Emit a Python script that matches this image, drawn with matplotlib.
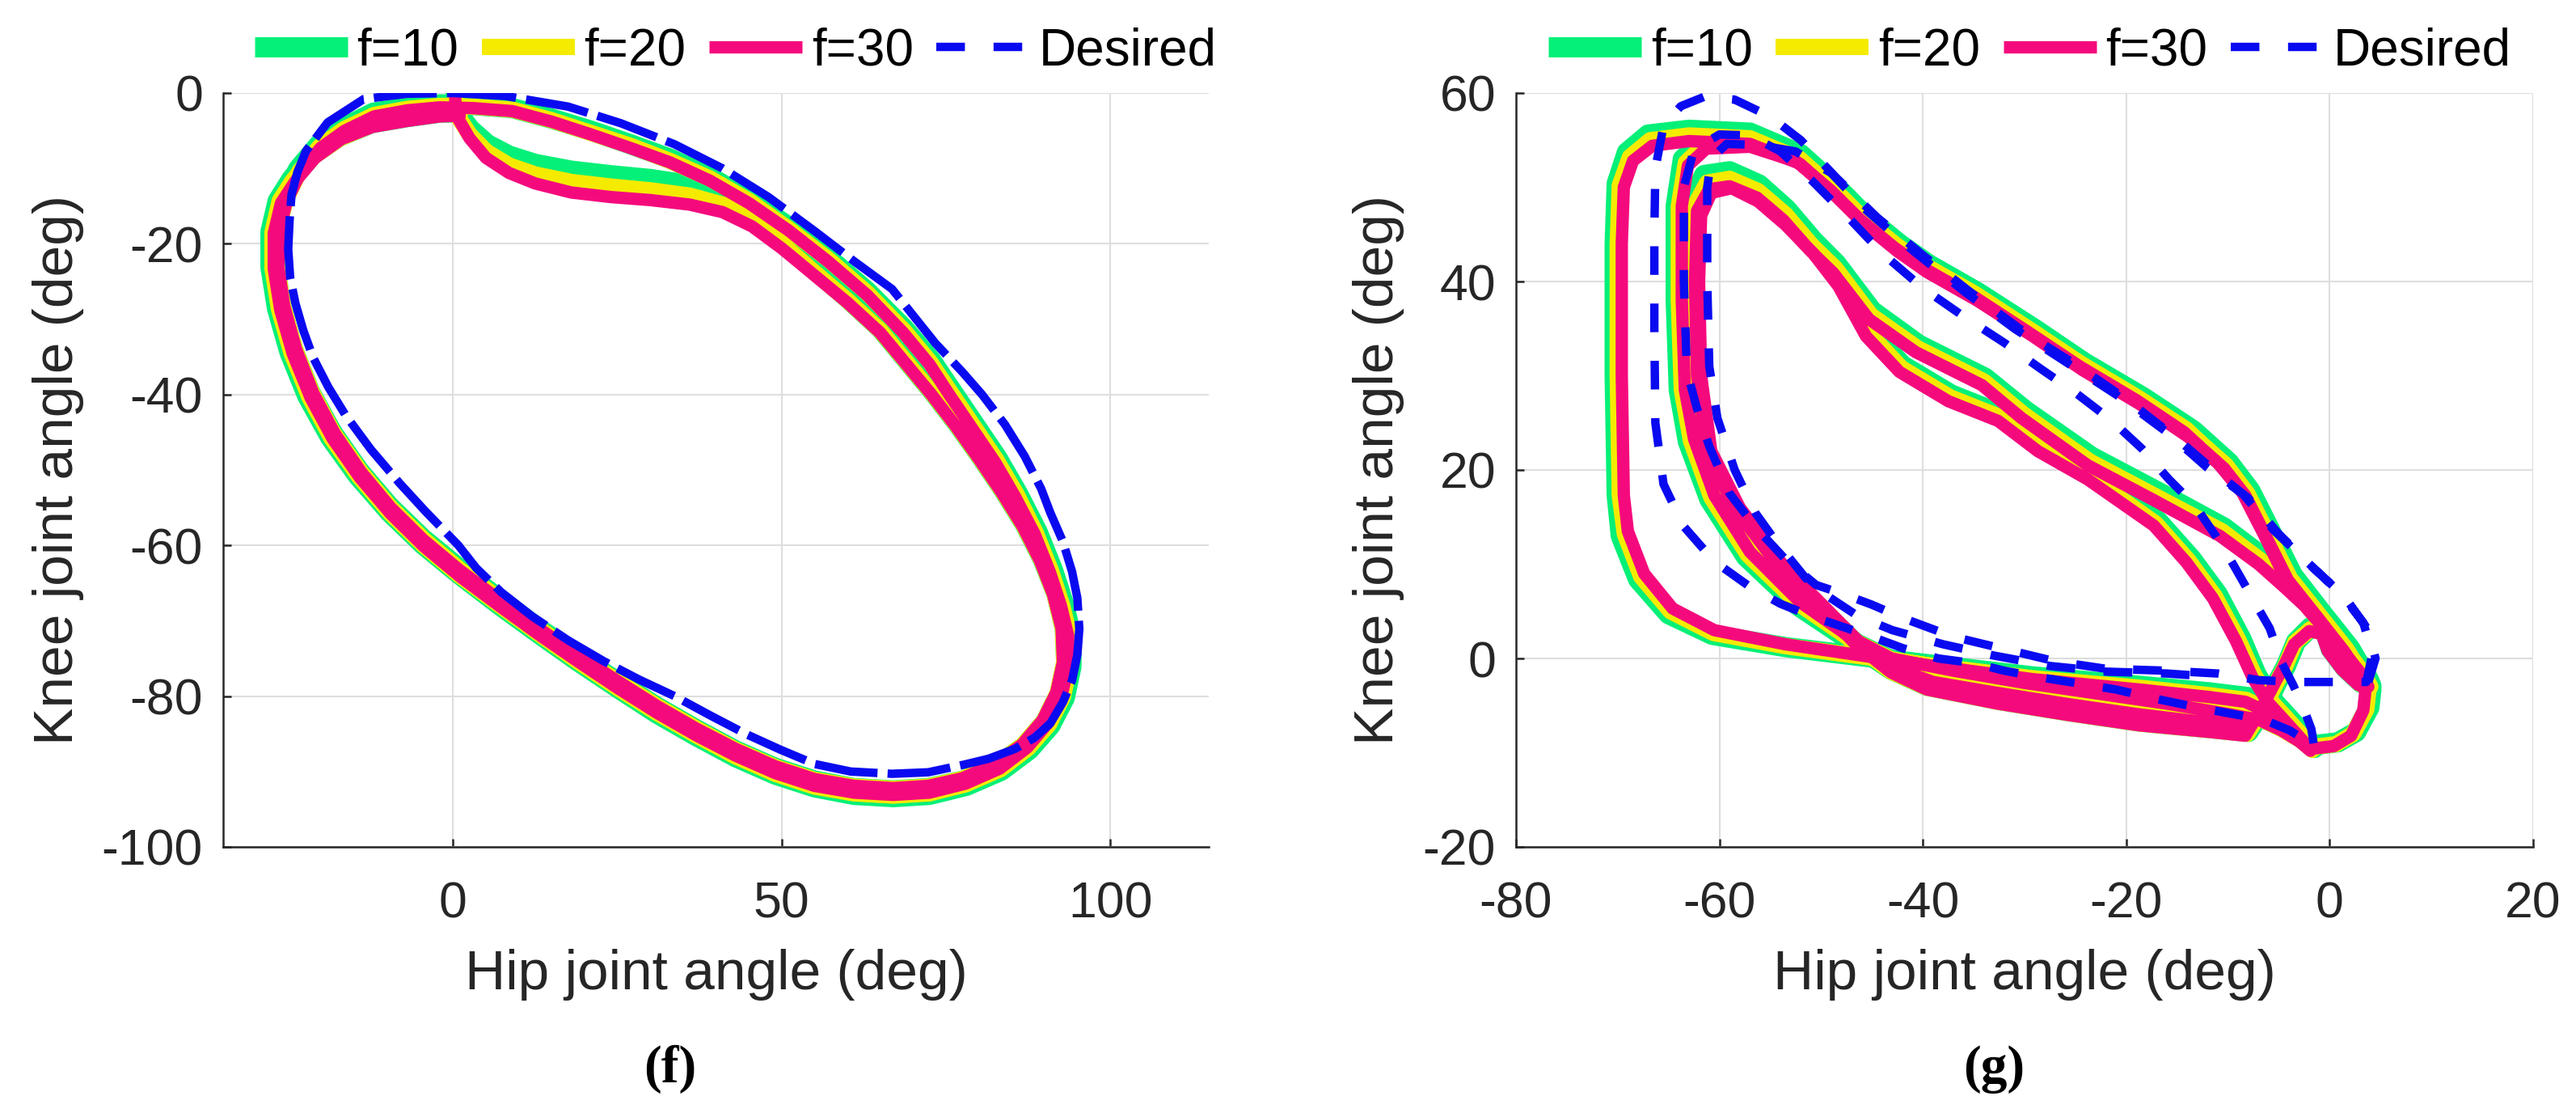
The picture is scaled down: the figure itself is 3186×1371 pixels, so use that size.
import numpy as np
import matplotlib
matplotlib.use("Agg")
import matplotlib.pyplot as plt
from matplotlib.lines import Line2D

# ---------------- data (hip, knee) in deg ----------------
# panel (f)
f_f10 = [(0.3, -0.5), (0.6, -2.5), (2.6, -4.8), (5.2, -6.8), (8.5, -8.3), (12.5, -9.4), (18.0, -10.3),
         (24.0, -10.9), (30.0, -11.4), (36.0, -12.2), (41.0, -13.6), (45.5, -16.0), (50.0, -19.4),
         (55.0, -23.4), (60.0, -27.2), (65.0, -31.2), (69.0, -35.4), (72.9, -39.5), (76.7, -43.8),
         (80.3, -48.2), (83.8, -52.7), (87.0, -57.2), (89.7, -61.8), (91.8, -66.4), (93.1, -71.0),
         (93.3, -75.6), (92.3, -79.7), (90.1, -83.5), (86.9, -86.7), (82.7, -89.3), (77.6, -91.2),
         (72.3, -92.2), (67.0, -92.5), (61.0, -92.2), (55.0, -91.2), (49.0, -89.5), (43.0, -87.2),
         (37.0, -84.4), (31.0, -81.4), (25.0, -78.1), (19.0, -74.6), (13.0, -71.0), (7.0, -67.1),
         (1.0, -63.1), (-4.6, -59.1), (-9.7, -54.8), (-14.3, -50.1), (-18.4, -45.0), (-21.8, -39.6),
         (-24.4, -33.9), (-26.2, -28.2), (-27.1, -22.9), (-27.0, -18.3), (-25.8, -14.0), (-23.6, -10.1),
         (-20.5, -6.9), (-16.7, -4.6), (-12.1, -2.6), (-7.0, -1.9), (-2.0, -1.5), (3.0, -1.6),
         (9.0, -2.0), (15.0, -3.4), (21.0, -5.0), (27.0, -6.8), (33.0, -8.7), (39.0, -11.1),
         (45.0, -14.1), (51.0, -17.7), (57.0, -21.8), (63.0, -26.3), (68.7, -31.3), (72.8, -35.5),
         (75.9, -39.5), (79.4, -44.0), (82.9, -48.5), (86.0, -53.2), (89.0, -58.3), (91.3, -63.3),
         (93.0, -67.9), (94.1, -72.0), (94.1, -76.1), (93.1, -80.2), (90.9, -83.9), (87.7, -87.1),
         (83.4, -89.9), (78.1, -91.9), (72.5, -93.1), (67.0, -93.4), (61.0, -93.1), (55.0, -92.1),
         (49.0, -90.4), (43.0, -88.1), (37.0, -85.3), (31.0, -82.3), (25.0, -78.9), (19.0, -75.4),
         (13.0, -71.7), (7.0, -67.9), (1.0, -63.9), (-4.6, -59.9), (-9.7, -55.6), (-14.5, -50.8),
         (-18.7, -45.7), (-22.2, -40.2), (-24.9, -34.4), (-26.8, -28.6), (-27.8, -23.1), (-27.8, -18.4),
         (-26.7, -14.3), (-24.6, -11.4), (-21.4, -8.2), (-17.4, -5.8), (-12.4, -4.0), (-7.0, -3.2),
         (-2.0, -2.6), (1.0, -2.6)]
f_f20 = [(0.3, -0.5), (0.5, -2.8), (2.5, -5.5), (5.1, -7.8), (8.5, -9.6), (12.5, -10.8), (18.0, -11.8),
         (24.0, -12.4), (30.0, -12.9), (36.0, -13.6), (41.0, -14.8), (45.5, -16.9), (50.0, -20.0),
         (55.0, -23.8), (60.0, -27.5), (65.0, -31.5), (69.0, -35.7), (72.8, -39.7), (76.6, -44.0),
         (80.1, -48.3), (83.6, -52.8), (86.8, -57.3), (89.5, -61.9), (91.5, -66.4), (92.8, -71.0),
         (93.0, -75.5), (92.0, -79.6), (89.9, -83.3), (86.7, -86.5), (82.6, -89.1), (77.5, -91.0),
         (72.3, -92.0), (67.0, -92.3), (61.0, -92.0), (55.0, -91.1), (49.0, -89.4), (43.0, -87.1),
         (37.0, -84.3), (31.0, -81.3), (25.0, -78.0), (19.0, -74.6), (13.0, -71.0), (7.0, -67.1),
         (1.0, -63.2), (-4.5, -59.2), (-9.6, -54.9), (-14.1, -50.2), (-18.2, -45.1), (-21.5, -39.7),
         (-24.1, -33.9), (-25.9, -28.2), (-26.8, -23.0), (-26.7, -18.4), (-25.5, -14.2), (-23.4, -10.4),
         (-20.3, -7.1), (-16.6, -4.8), (-12.0, -2.9), (-7.0, -2.1), (-2.0, -1.7), (3.0, -1.8),
         (9.0, -2.2), (15.0, -3.6), (21.0, -5.3), (27.0, -7.0), (33.0, -9.0), (39.0, -11.3),
         (45.0, -14.3), (51.0, -18.0), (57.0, -22.0), (63.0, -26.5), (68.6, -31.5), (72.6, -35.7),
         (75.7, -39.7), (79.2, -44.2), (82.7, -48.7), (85.8, -53.3), (88.7, -58.4), (91.0, -63.4),
         (92.7, -68.0), (93.8, -72.0), (93.8, -76.0), (92.8, -80.1), (90.7, -83.7), (87.5, -86.9),
         (83.3, -89.7), (78.0, -91.7), (72.5, -92.9), (67.0, -93.2), (61.0, -92.9), (55.0, -92.0),
         (49.0, -90.3), (43.0, -88.0), (37.0, -85.2), (31.0, -82.2), (25.0, -78.9), (19.0, -75.4),
         (13.0, -71.7), (7.0, -67.9), (1.0, -64.0), (-4.5, -60.0), (-9.6, -55.7), (-14.3, -50.9),
         (-18.5, -45.8), (-21.9, -40.3), (-24.6, -34.5), (-26.5, -28.7), (-27.5, -23.2), (-27.5, -18.5),
         (-26.4, -14.3), (-24.4, -11.6), (-21.2, -8.4), (-17.2, -6.0), (-12.3, -4.2), (-7.0, -3.4),
         (-2.0, -2.8), (1.0, -2.8)]
f_f30 = [(0.3, -0.5), (0.5, -3.0), (2.5, -6.0), (5.0, -8.6), (8.5, -10.6), (12.5, -12.0), (18.0, -13.2),
         (24.0, -13.8), (30.0, -14.2), (36.0, -14.8), (41.0, -15.8), (45.5, -17.7), (50.0, -20.6),
         (55.0, -24.2), (60.0, -27.8), (65.0, -31.8), (69.0, -36.0), (72.8, -40.0), (76.5, -44.2),
         (80.0, -48.5), (83.5, -53.0), (86.7, -57.5), (89.3, -62.0), (91.3, -66.5), (92.6, -71.0),
         (92.8, -75.5), (91.8, -79.5), (89.7, -83.2), (86.6, -86.4), (82.5, -89.0), (77.5, -90.9),
         (72.3, -91.9), (67.0, -92.2), (61.0, -91.9), (55.0, -91.0), (49.0, -89.3), (43.0, -87.0),
         (37.0, -84.3), (31.0, -81.3), (25.0, -78.0), (19.0, -74.6), (13.0, -71.0), (7.0, -67.2),
         (1.0, -63.3), (-4.5, -59.3), (-9.5, -55.0), (-14.0, -50.3), (-18.0, -45.2), (-21.3, -39.8),
         (-23.9, -34.0), (-25.7, -28.3), (-26.6, -23.0), (-26.5, -18.5), (-25.3, -14.3), (-23.2, -10.5),
         (-20.2, -7.3), (-16.5, -5.0), (-12.0, -3.1), (-7.0, -2.3), (-2.0, -1.9), (3.0, -2.0),
         (9.0, -2.4), (15.0, -3.8), (21.0, -5.5), (27.0, -7.3), (33.0, -9.2), (39.0, -11.6),
         (45.0, -14.6), (51.0, -18.2), (57.0, -22.3), (63.0, -26.8), (68.5, -31.8), (72.5, -36.0),
         (75.5, -40.0), (79.0, -44.5), (82.5, -49.0), (85.5, -53.5), (88.5, -58.5), (90.8, -63.5),
         (92.5, -68.0), (93.6, -72.0), (93.6, -76.0), (92.6, -80.0), (90.5, -83.6), (87.4, -86.8),
         (83.2, -89.6), (78.0, -91.6), (72.5, -92.8), (67.0, -93.1), (61.0, -92.8), (55.0, -91.9),
         (49.0, -90.2), (43.0, -87.9), (37.0, -85.2), (31.0, -82.2), (25.0, -78.9), (19.0, -75.4),
         (13.0, -71.8), (7.0, -68.0), (1.0, -64.1), (-4.5, -60.1), (-9.5, -55.8), (-14.2, -51.0),
         (-18.3, -45.9), (-21.7, -40.4), (-24.4, -34.6), (-26.3, -28.8), (-27.3, -23.3), (-27.3, -18.6),
         (-26.2, -14.6), (-24.1, -11.8), (-21.0, -8.6), (-17.0, -6.1), (-12.3, -4.5), (-7.0, -3.7),
         (-2.0, -3.1), (1.0, -3.0)]
f_desired = [(0.0, 0.0), (8.0, -0.4), (17.5, -1.8), (25.5, -4.0), (33.7, -6.8), (41.0, -10.0), (48.0, -13.8),
             (55.0, -18.3), (61.0, -22.3), (66.8, -26.0), (73.4, -33.2), (77.5, -37.0), (80.5, -40.0),
             (84.0, -44.0), (87.0, -48.2), (89.5, -52.5), (90.9, -55.7), (92.8, -59.5), (94.2, -63.5),
             (95.0, -67.0), (95.3, -71.1), (95.0, -74.5), (94.2, -77.9), (92.8, -80.8), (90.9, -83.6),
             (88.5, -85.5), (85.5, -87.0), (81.5, -88.3), (77.7, -89.1), (72.3, -90.1), (66.8, -90.3),
             (60.5, -90.0), (55.0, -89.0), (49.8, -87.1), (44.5, -85.0), (39.0, -82.5), (33.7, -80.0),
             (28.3, -77.8), (23.0, -75.4), (17.5, -72.6), (12.0, -69.4), (7.3, -66.2), (3.5, -63.0),
             (0.8, -60.0), (-4.2, -55.5), (-8.1, -51.8), (-12.5, -47.3), (-16.4, -42.7), (-19.0, -39.0),
             (-21.3, -35.1), (-22.8, -31.5), (-24.0, -27.9), (-24.8, -24.5), (-25.1, -20.7), (-24.9, -17.0),
             (-24.6, -13.5), (-23.7, -10.5), (-22.4, -7.7), (-19.1, -3.9), (-13.6, -0.8), (-7.0, -0.1),
             (0.0, 0.0)]

# panel (g)
g_f10 = [(3.9, -2.4), (2.0, 1.1), (-0.8, 4.9), (-3.6, 8.8), (-5.7, 13.3), (-7.8, 17.8), (-9.9, 20.8),
         (-13.4, 24.2), (-18.3, 27.7), (-24.0, 31.3), (-28.9, 34.9), (-34.4, 38.7), (-39.4, 41.8),
         (-42.3, 44.0), (-45.7, 47.0), (-48.6, 50.2), (-52.0, 53.5), (-57.0, 55.8), (-63.0, 56.1),
         (-67.0, 55.6), (-69.1, 53.7), (-70.1, 50.4), (-70.3, 44.0), (-70.3, 30.0), (-70.1, 17.3),
         (-69.7, 13.0), (-68.0, 8.4), (-65.0, 4.7), (-60.7, 2.5), (-53.5, 1.2), (-46.6, 0.3),
         (-39.6, -0.6), (-29.2, -1.9), (-18.7, -2.9), (-11.8, -3.6), (-8.0, -4.1), (-5.2, -5.7),
         (-3.2, -7.4), (-1.6, -9.2), (0.8, -8.9), (2.6, -7.8), (3.9, -5.2), (4.1, -3.3),
         (2.8, -0.6), (0.5, 2.6), (-2.0, 5.9), (-4.0, 8.2), (-6.6, 10.8), (-10.4, 13.9), (-16.9, 17.7),
         (-23.4, 21.4), (-29.9, 26.3), (-33.9, 29.8), (-40.4, 33.3), (-45.0, 36.9), (-48.5, 41.9),
         (-50.8, 44.4), (-53.4, 47.7), (-56.1, 50.3), (-59.0, 51.7), (-61.5, 51.3), (-62.8, 48.3),
         (-63.0, 40.0), (-62.8, 30.0), (-61.7, 21.6), (-58.8, 15.5), (-54.5, 9.6), (-50.2, 5.1),
         (-46.7, 1.4), (-43.1, -1.2), (-39.6, -2.9), (-32.6, -4.4), (-25.7, -5.6), (-18.7, -6.7),
         (-11.8, -7.4), (-8.0, -7.8), (-6.4, -5.3), (-5.2, -2.6), (-4.3, -0.8), (-3.3, 1.8),
         (-1.9, 3.3), (-0.5, 3.0), (0.1, 1.0), (1.5, -1.0), (3.1, -2.6), (4.1, -2.9),
         (3.4, -1.3), (1.4, 1.5), (-1.2, 5.1), (-4.0, 9.0), (-6.1, 13.6), (-8.2, 18.0), (-10.5, 21.0),
         (-13.9, 24.5), (-18.7, 27.9), (-24.3, 31.5), (-29.3, 35.1), (-34.7, 38.9), (-39.6, 41.9),
         (-42.5, 44.1), (-45.9, 47.1), (-48.8, 50.2), (-52.2, 53.4), (-57.0, 55.2), (-61.5, 55.0),
         (-63.6, 53.0), (-64.3, 48.0), (-64.3, 38.0), (-64.0, 28.5), (-63.1, 23.0), (-61.0, 16.9),
         (-57.4, 10.8), (-52.3, 5.6), (-47.3, 2.0), (-43.1, -0.2), (-37.0, -1.0), (-30.0, -2.2),
         (-23.0, -3.3), (-16.0, -4.4), (-10.5, -5.4), (-7.0, -6.1), (-4.6, -7.3), (-2.7, -8.5),
         (-1.5, -9.5), (-2.6, -8.0), (-4.1, -6.2), (-5.8, -4.2), (-7.2, -1.7), (-8.7, 2.1),
         (-11.0, 6.8), (-13.6, 10.6), (-16.9, 14.6), (-23.5, 19.6), (-28.4, 22.7), (-32.3, 25.9),
         (-37.2, 28.0), (-42.0, 31.1), (-45.3, 34.9), (-48.0, 40.2), (-50.5, 43.8), (-53.2, 47.0),
         (-56.0, 49.6), (-58.7, 51.2), (-61.2, 50.6), (-62.4, 47.5), (-62.6, 40.0), (-62.4, 30.0),
         (-61.4, 21.8), (-58.5, 15.6), (-54.2, 9.5), (-50.0, 5.1), (-46.5, 1.5), (-43.3, -0.5),
         (-39.0, -2.1), (-33.0, -3.2), (-26.0, -4.4), (-19.0, -5.5), (-12.0, -6.4), (-8.0, -6.9)]
g_f20 = [(3.6, -2.5), (1.7, 0.9), (-1.1, 4.7), (-3.9, 8.5), (-6.0, 13.0), (-8.1, 17.5), (-10.2, 20.5),
         (-13.7, 23.8), (-18.5, 27.3), (-24.2, 30.9), (-29.1, 34.5), (-34.6, 38.3), (-39.5, 41.3),
         (-42.4, 43.6), (-45.8, 46.6), (-48.7, 49.7), (-52.1, 53.0), (-57.0, 55.2), (-63.0, 55.5),
         (-66.8, 55.0), (-68.8, 53.2), (-69.8, 50.2), (-70.0, 44.0), (-70.0, 30.0), (-69.8, 17.3),
         (-69.3, 13.2), (-67.7, 8.7), (-64.8, 5.0), (-60.6, 2.7), (-53.5, 1.3), (-46.6, 0.3),
         (-39.6, -0.7), (-29.2, -2.1), (-18.7, -3.1), (-11.8, -3.9), (-8.2, -4.4), (-5.4, -5.9),
         (-3.4, -7.6), (-1.8, -9.4), (0.6, -9.1), (2.3, -8.0), (3.6, -5.4), (3.8, -3.4),
         (2.5, -0.7), (0.2, 2.5), (-2.3, 5.7), (-4.3, 7.9), (-6.8, 10.4), (-10.6, 13.5), (-17.1, 17.2),
         (-23.6, 20.9), (-30.1, 25.9), (-34.0, 29.4), (-40.5, 32.9), (-45.1, 36.4), (-48.6, 41.4),
         (-50.9, 43.8), (-53.5, 47.1), (-56.2, 49.6), (-59.0, 50.9), (-61.2, 50.5), (-62.5, 47.9),
         (-62.7, 40.0), (-62.5, 30.0), (-61.4, 21.7), (-58.6, 15.6), (-54.3, 9.7), (-50.1, 5.2),
         (-46.6, 1.4), (-43.1, -1.4), (-39.6, -3.1), (-32.6, -4.6), (-25.7, -5.8), (-18.7, -6.9),
         (-11.8, -7.6), (-8.1, -8.0), (-6.6, -5.4), (-5.3, -2.7), (-4.4, -0.9), (-3.4, 1.7),
         (-1.9, 3.1), (-0.6, 2.8), (0.0, 0.9), (1.4, -1.1), (3.0, -2.7), (4.0, -3.0),
         (3.2, -1.4), (1.2, 1.3), (-1.4, 4.9), (-4.2, 8.8), (-6.3, 13.4), (-8.4, 17.8), (-10.7, 20.8),
         (-14.1, 24.3), (-18.9, 27.7), (-24.5, 31.3), (-29.5, 34.9), (-34.9, 38.7), (-39.8, 41.7),
         (-42.7, 43.9), (-46.1, 46.9), (-49.0, 50.0), (-52.3, 53.1), (-57.0, 54.8), (-61.4, 54.6),
         (-63.3, 52.6), (-64.0, 48.0), (-64.0, 38.0), (-63.7, 28.5), (-62.8, 23.1), (-60.8, 17.1),
         (-57.2, 11.0), (-52.2, 5.8), (-47.2, 2.1), (-43.1, -0.1), (-37.0, -1.2), (-30.0, -2.4),
         (-23.0, -3.5), (-16.0, -4.6), (-10.5, -5.6), (-7.0, -6.3), (-4.7, -7.5), (-2.8, -8.7),
         (-1.7, -9.7), (-2.8, -8.1), (-4.3, -6.3), (-6.0, -4.3), (-7.4, -1.8), (-9.0, 2.0),
         (-11.3, 6.6), (-13.9, 10.4), (-17.1, 14.3), (-23.6, 19.3), (-28.5, 22.4), (-32.4, 25.6),
         (-37.3, 27.7), (-42.1, 30.8), (-45.4, 34.6), (-48.1, 39.9), (-50.6, 43.4), (-53.3, 46.5),
         (-56.1, 49.0), (-58.7, 50.5), (-61.0, 50.0), (-62.1, 47.2), (-62.3, 40.0), (-62.1, 30.0),
         (-61.1, 21.9), (-58.3, 15.8), (-54.0, 9.7), (-49.8, 5.3), (-46.4, 1.6), (-43.3, -0.6),
         (-39.0, -2.3), (-33.0, -3.4), (-26.0, -4.6), (-19.0, -5.7), (-12.0, -6.6), (-8.0, -7.1)]
g_f30 = [(3.4, -2.6), (1.4, 0.8), (-1.3, 4.5), (-4.1, 8.3), (-6.2, 12.8), (-8.3, 17.3), (-10.4, 20.2),
         (-13.9, 23.5), (-18.7, 27.0), (-24.3, 30.6), (-29.2, 34.2), (-34.7, 38.0), (-39.6, 41.0),
         (-42.5, 43.2), (-45.9, 46.2), (-48.8, 49.3), (-52.1, 52.5), (-57.0, 54.6), (-63.0, 54.9),
         (-66.6, 54.4), (-68.5, 52.8), (-69.4, 50.0), (-69.6, 44.0), (-69.6, 30.0), (-69.4, 17.3),
         (-69.0, 13.5), (-67.4, 9.0), (-64.6, 5.3), (-60.5, 3.0), (-53.5, 1.5), (-46.6, 0.4),
         (-39.6, -0.7), (-29.2, -2.2), (-18.7, -3.3), (-11.8, -4.1), (-8.3, -4.6), (-5.5, -6.0),
         (-3.5, -7.8), (-1.9, -9.6), (0.4, -9.3), (2.1, -8.2), (3.3, -5.5), (3.5, -3.5),
         (2.3, -0.8), (0.0, 2.5), (-2.5, 5.6), (-4.5, 7.6), (-7.0, 10.0), (-10.8, 13.0), (-17.3, 16.8),
         (-23.8, 20.5), (-30.3, 25.5), (-34.2, 29.0), (-40.7, 32.5), (-45.3, 36.0), (-48.8, 40.9),
         (-51.1, 43.3), (-53.7, 46.5), (-56.3, 48.9), (-59.0, 50.1), (-61.0, 49.8), (-62.2, 47.5),
         (-62.4, 40.0), (-62.2, 30.0), (-61.2, 21.8), (-58.4, 15.8), (-54.2, 9.8), (-50.0, 5.3),
         (-46.6, 1.5), (-43.1, -1.5), (-39.6, -3.3), (-32.6, -4.8), (-25.7, -6.0), (-18.7, -7.1),
         (-11.8, -7.8), (-8.3, -8.2), (-6.8, -5.5), (-5.5, -2.8), (-4.6, -1.0), (-3.5, 1.5),
         (-2.0, 2.9), (-0.8, 2.6), (-0.2, 0.8), (1.2, -1.2), (2.8, -2.8), (3.8, -3.0),
         (3.0, -1.5), (1.0, 1.2), (-1.6, 4.8), (-4.4, 8.6), (-6.5, 13.2), (-8.6, 17.6), (-10.9, 20.6),
         (-14.3, 24.0), (-19.0, 27.4), (-24.6, 31.0), (-29.6, 34.6), (-35.0, 38.4), (-39.9, 41.4),
         (-42.8, 43.6), (-46.2, 46.6), (-49.1, 49.7), (-52.4, 52.7), (-57.0, 54.3), (-61.3, 54.1),
         (-63.1, 52.3), (-63.7, 48.0), (-63.7, 38.0), (-63.4, 28.5), (-62.5, 23.3), (-60.5, 17.3),
         (-57.0, 11.3), (-52.1, 6.0), (-47.2, 2.3), (-43.1, 0.0), (-37.0, -1.3), (-30.0, -2.6),
         (-23.0, -3.7), (-16.0, -4.8), (-10.5, -5.8), (-7.0, -6.5), (-4.8, -7.6), (-3.0, -8.8),
         (-1.9, -9.8), (-3.0, -8.3), (-4.5, -6.5), (-6.2, -4.5), (-7.6, -2.0), (-9.2, 1.8),
         (-11.5, 6.4), (-14.1, 10.2), (-17.3, 14.1), (-23.8, 19.0), (-28.7, 22.0), (-32.6, 25.2),
         (-37.5, 27.3), (-42.3, 30.4), (-45.6, 34.2), (-48.3, 39.5), (-50.8, 43.0), (-53.5, 46.0),
         (-56.2, 48.5), (-58.8, 49.9), (-60.8, 49.4), (-61.8, 47.0), (-62.0, 40.0), (-61.8, 30.0),
         (-60.8, 22.0), (-58.0, 16.0), (-53.8, 10.0), (-49.7, 5.5), (-46.3, 1.8), (-43.3, -0.8),
         (-39.0, -2.5), (-33.0, -3.6), (-26.0, -4.8), (-19.0, -5.9), (-12.0, -6.8), (-8.0, -7.3)]
g_desired = [(3.8, -2.5), (4.5, 0.0), (3.8, 3.0), (1.5, 6.5), (-1.5, 9.5), (-5.0, 13.2), (-8.0, 17.0),
             (-11.0, 19.6), (-15.0, 23.3), (-20.0, 27.5), (-25.0, 31.2), (-30.0, 34.6), (-35.0, 38.6),
             (-40.0, 42.8), (-44.5, 46.8), (-48.5, 51.0), (-52.0, 55.0), (-55.0, 57.5), (-58.5, 59.3),
             (-61.5, 59.6), (-63.8, 58.6), (-65.5, 56.5), (-66.3, 52.0), (-66.4, 45.0), (-66.4, 35.0),
             (-66.3, 25.0), (-65.5, 18.5), (-63.5, 14.0), (-60.5, 10.3), (-57.0, 7.6), (-54.0, 5.8),
             (-51.0, 4.5), (-48.0, 3.4), (-45.0, 2.3), (-42.0, 1.1), (-38.5, 0.0), (-35.0, -0.5),
             (-32.0, -1.3), (-28.5, -2.0), (-25.0, -2.6), (-21.0, -3.3), (-17.0, -4.3), (-13.0, -5.2),
             (-9.5, -5.9), (-6.5, -6.5), (-4.0, -7.6), (-2.2, -8.8), (-1.5, -9.6), (-1.8, -7.5),
             (-2.6, -5.2), (-3.6, -2.8), (-4.7, -0.5), (-5.9, 3.2), (-7.6, 6.4), (-9.5, 10.0),
             (-11.2, 13.0), (-13.3, 16.3), (-15.8, 19.0), (-18.5, 22.3), (-21.5, 25.3), (-25.0, 28.2),
             (-28.5, 30.8), (-32.0, 33.5), (-36.0, 36.3), (-40.0, 39.3), (-44.0, 43.0), (-47.5, 47.0),
             (-51.0, 50.8), (-54.0, 53.8), (-57.0, 55.5), (-60.0, 55.6), (-62.5, 54.0), (-63.5, 50.0),
             (-63.5, 40.0), (-63.2, 30.5), (-62.2, 26.5), (-61.0, 22.5), (-59.0, 17.5), (-56.5, 14.0),
             (-53.5, 10.5), (-50.5, 7.8), (-48.0, 6.9), (-45.0, 5.7), (-42.0, 4.3), (-37.0, 2.3),
             (-32.0, 1.0), (-27.0, -0.3), (-22.0, -1.1), (-16.0, -1.3), (-11.0, -1.6), (-7.0, -2.3),
             (-3.0, -2.5), (0.0, -2.5), (3.6, -2.5), (4.2, 0.5), (3.3, 3.8), (1.0, 7.0), (-2.0, 10.0),
             (-5.5, 13.6), (-8.5, 17.4), (-12.0, 20.2), (-16.0, 24.0), (-21.0, 28.0), (-26.0, 31.5),
             (-31.0, 35.0), (-36.0, 39.0), (-41.0, 43.3), (-45.5, 47.5), (-49.0, 51.5), (-52.5, 53.8),
             (-56.3, 54.5), (-59.3, 54.6), (-60.8, 53.0), (-61.2, 50.0), (-61.2, 40.0), (-61.0, 31.0),
             (-60.2, 25.5), (-58.5, 20.0), (-56.5, 15.5), (-54.5, 12.5), (-51.5, 8.5), (-49.2, 6.5),
             (-46.4, 4.5), (-43.0, 3.0), (-38.0, 1.5), (-33.0, 0.3), (-27.5, -0.8), (-22.0, -1.4),
             (-16.0, -1.6), (-12.0, -1.9)]

labels = ["f=10", "f=20", "f=30", "Desired"]
colors = ["#05F078", "#F5EB00", "#F50A7D", "#0A0AF0"]
widths = [18, 14.5, 11, 7.5]

# ---------------- figure ----------------
plt.rcParams["font.family"] = ["Liberation Sans", "DejaVu Sans"]
plt.rcParams["axes.unicode_minus"] = False
W, H = 3186, 1371
fig = plt.figure(figsize=(W / 100, H / 100), dpi=100)
ink = "#262626"


def panel(rect, data, xlim, ylim, xticks, yticks, dash, leg_x, tag, tag_x):
    ax = fig.add_axes(rect)
    for pts, c, lw, lab in zip(data, colors, widths, labels):
        x, y = np.array(pts).T
        if lab == "Desired":
            ax.plot(x, y, color=c, lw=lw, linestyle=(0, dash), dash_capstyle="butt")
        else:
            ax.plot(x, y, color=c, lw=lw, solid_capstyle="round", solid_joinstyle="round")
    ax.set_xlim(*xlim)
    ax.set_ylim(*ylim)
    ax.set_xticks(xticks)
    ax.set_yticks(yticks)
    ax.grid(True, color="#dedede", lw=1.5)
    ax.set_axisbelow(True)
    for s in ("top", "right"):
        ax.spines[s].set_visible(False)
    for s in ("left", "bottom"):
        ax.spines[s].set_color(ink)
        ax.spines[s].set_linewidth(1.8)
    ax.tick_params(direction="in", length=7, width=1.8, color=ink, labelcolor=ink, labelsize=45)
    ax.tick_params(axis="x", pad=30)
    ax.tick_params(axis="y", pad=18)
    ax.set_xlabel("Hip joint angle (deg)", fontsize=50, color=ink, labelpad=18)
    ax.set_ylabel("Knee joint angle (deg)", fontsize=50, color=ink, labelpad=16)
    handles = []
    for c, lw, lab in zip(colors, widths, labels):
        if lab == "Desired":
            handles.append(Line2D([], [], color=c, lw=lw, linestyle=(0, (3.4, 3.4)), dash_capstyle="butt"))
        else:
            handles.append(Line2D([], [], color=c, lw=lw, solid_capstyle="butt"))
    ax.legend(handles, labels, loc="center", bbox_to_anchor=(leg_x, 1.055), ncol=4, frameon=False,
              fontsize=46, handlelength=1.8, handletextpad=0.18, columnspacing=0.45,
              borderpad=0, borderaxespad=0)
    fig.text(tag_x, 1 - 1322 / H, tag, ha="center", va="center", fontsize=47,
             family=["Liberation Serif", "DejaVu Serif"], weight="bold")
    return ax


ax_f = panel([276 / W, 1 - 1047 / H, 1219 / W, 932 / H], [f_f10, f_f20, f_f30, f_desired],
             (-35, 115), (-100, 0), [0, 50, 100], [-100, -80, -60, -40, -20, 0],
             (7.5, 1.2), 0.52, "(f)", 829 / W)
ax_g = panel([1875 / W, 1 - 1047 / H, 1258 / W, 932 / H], [g_f10, g_f20, g_f30, g_desired],
             (-80, 20), (-20, 60), [-80, -60, -40, -20, 0, 20], [-20, 0, 20, 40, 60],
             (3.4, 3.4), 0.505, "(g)", 2466 / W)

fig.savefig("out.png", dpi=100, facecolor="white")
